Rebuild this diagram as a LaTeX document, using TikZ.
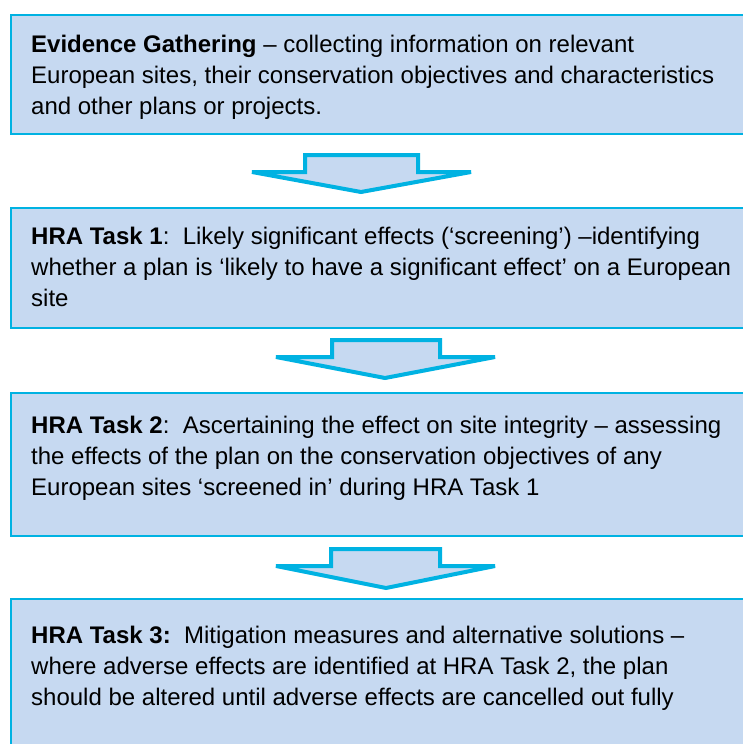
\documentclass[tikz,border=0pt]{standalone}
\usepackage{fontspec}
\setmainfont{Liberation Sans}
\definecolor{boxfill}{HTML}{C6D9F1}
\definecolor{boxline}{HTML}{00B2E2}
\begin{document}
\begin{tikzpicture}[x=1pt,y=-1pt,
  boxshape/.style={draw=boxline,fill=boxfill,line width=2.2pt,rectangle,inner sep=0pt,anchor=north west},
  txt/.style={anchor=base west,inner sep=0pt,font=\fontsize{24}{31}\selectfont,text=black},
  bigarrow/.style={draw=boxline,fill=boxfill,line width=4pt,line join=miter}]
\useasboundingbox (0,0) rectangle (743,744);
\clip (0,0) rectangle (743,744);
% boxes
\node[boxshape,minimum width=750pt,minimum height=119pt] (b1) at (10,14) {};
\node[boxshape,minimum width=750pt,minimum height=120pt] (b2) at (10,207) {};
\node[boxshape,minimum width=750pt,minimum height=143pt] (b3) at (10,392) {};
\node[boxshape,minimum width=750pt,minimum height=170pt] (b4) at (10,598) {};
% arrows
\draw[bigarrow] (305,155) -- (418,155) -- (418,172) -- (471,172) -- (361,192) -- (252,172) -- (305,172) -- cycle;
\draw[bigarrow] (332,340) -- (440,340) -- (440,357) -- (495,357) -- (385,378) -- (276,357) -- (332,357) -- cycle;
\draw[bigarrow] (331,549) -- (440,549) -- (440,566) -- (495,566) -- (386,588) -- (276,566) -- (331,566) -- cycle;
% texts
\node[txt] (t11) at (31,52) {\textbf{Evidence Gathering} – collecting information on relevant};
\node[txt] (t12) at (31,83) {European sites, their conservation objectives and characteristics};
\node[txt] (t13) at (31,114) {and other plans or projects.};
\node[txt] (t21) at (31,244) {\textbf{HRA Task 1}:\ \ Likely significant effects (‘screening’) –identifying};
\node[txt] (t22) at (31,275) {whether a plan is ‘likely to have a significant effect’ on a European};
\node[txt] (t23) at (31,306) {site};
\node[txt] (t31) at (31,433) {\textbf{HRA Task 2}:\ \ Ascertaining the effect on site integrity – assessing};
\node[txt] (t32) at (31,464) {the effects of the plan on the conservation objectives of any};
\node[txt] (t33) at (31,495) {European sites ‘screened in’ during HRA Task 1};
\node[txt] (t41) at (31,643) {\textbf{HRA Task 3:}\ \ Mitigation measures and alternative solutions –};
\node[txt] (t42) at (31,674) {where adverse effects are identified at HRA Task 2, the plan};
\node[txt] (t43) at (31,705) {should be altered until adverse effects are cancelled out fully};
\end{tikzpicture}
\end{document}
